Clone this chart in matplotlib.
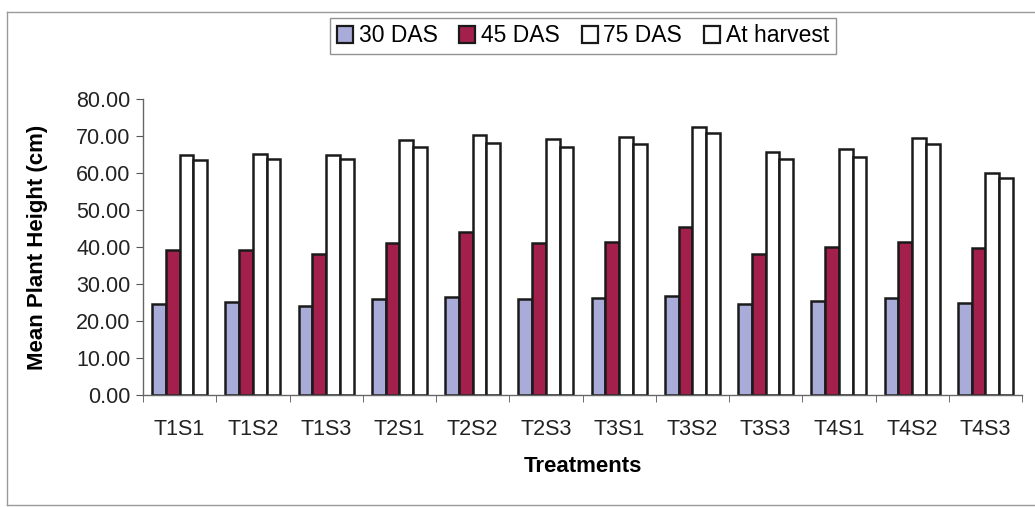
import numpy as np
import matplotlib.pyplot as plt
from matplotlib.lines import Line2D

# Plant height data (cm)
treatments = ["T1S1", "T1S2", "T1S3", "T2S1", "T2S2", "T2S3",
              "T3S1", "T3S2", "T3S3", "T4S1", "T4S2", "T4S3"]
das30 = [24.5, 25.2, 24.1, 25.9, 26.4, 25.9, 26.1, 26.8, 24.5, 25.4, 26.1, 24.9]
das45 = [39.2, 39.2, 38.1, 41.2, 44.1, 41.2, 41.4, 45.5, 38.0, 40.1, 41.4, 39.6]
das75 = [65.0, 65.1, 65.0, 68.9, 70.4, 69.1, 69.6, 72.5, 65.8, 66.6, 69.4, 59.9]
harvest = [63.5, 63.7, 63.7, 66.9, 68.2, 67.1, 67.8, 70.7, 63.7, 64.2, 67.8, 58.6]
series_names = ["30 DAS", "45 DAS", "75 DAS", "At harvest"]
y_ticks = [0, 10, 20, 30, 40, 50, 60, 70, 80]

SERIES = [das30, das45, das75, harvest]
COLORS = ["#a9acd8", "#a31f4c", "white", "white"]
BAR_W = 0.1875
W, H = 1035, 507

plt.rcParams["font.family"] = ["Liberation Sans", "DejaVu Sans"]

fig = plt.figure(figsize=(W / 100, H / 100), dpi=100)
ax = fig.add_axes([143 / W, 1 - 395 / H, (1022 - 143) / W, (395 - 99) / H])

x = np.arange(len(treatments))
for i, (vals, col, name) in enumerate(zip(SERIES, COLORS, series_names)):
    offs = (i - 1.5) * BAR_W
    ax.bar(x + offs, vals, width=BAR_W, color=col, edgecolor="#1a1a1a",
           linewidth=1.8, label=name)

ax.set_xlim(-0.5, len(treatments) - 0.5)
ax.set_ylim(0, 80)
ax.set_yticks(y_ticks)
ax.set_yticklabels([f"{v:.2f}" for v in y_ticks], fontsize=15.5, color="#222222")

# category labels centred, tick marks at group boundaries
ax.set_xticks(x)
ax.set_xticklabels(treatments, fontsize=15.5, color="#222222")
ax.tick_params(axis="x", length=0, pad=17)
ax.set_xticks(np.arange(-0.5, len(treatments)), minor=True)
ax.tick_params(axis="x", which="minor", length=5, color="#555555")
ax.tick_params(axis="y", length=5, color="#555555", pad=4)

for side in ("top", "right"):
    ax.spines[side].set_visible(False)
for side in ("left", "bottom"):
    ax.spines[side].set_color("#666666")
    ax.spines[side].set_linewidth(1.0)

ax.set_ylabel("Mean Plant Height (cm)", fontsize=16, fontweight="bold")
ax.yaxis.set_label_coords(48 / W, 1 - 247 / H, transform=fig.transFigure)
ax.set_xlabel("Treatments", fontsize=16, fontweight="bold")
ax.xaxis.set_label_coords(583 / W, 1 - 466 / H, transform=fig.transFigure)
ax.xaxis.label.set_va("center")

leg = ax.legend(loc="center", bbox_to_anchor=(583 / W, 1 - 36 / H),
                bbox_transform=fig.transFigure, ncol=4, fontsize=16.5,
                frameon=True, fancybox=False, handlelength=0.7, handleheight=0.7,
                handletextpad=0.25, columnspacing=0.95, borderpad=0.3)
leg.get_frame().set_edgecolor("#777777")
leg.get_frame().set_linewidth(1.0)
for h in leg.legend_handles:
    h.set_linewidth(1.6)

# outer chart border (left, top, bottom)
bx0, by0, by1 = 7 / W, 1 - 505 / H, 1 - 12 / H
for xs, ys in (([bx0, bx0], [by0, by1]), ([bx0, 1], [by1, by1]), ([bx0, 1], [by0, by0])):
    fig.add_artist(Line2D(xs, ys, transform=fig.transFigure,
                          color="#9a9a9a", linewidth=1.0))

fig.savefig("out.png", dpi=100)
